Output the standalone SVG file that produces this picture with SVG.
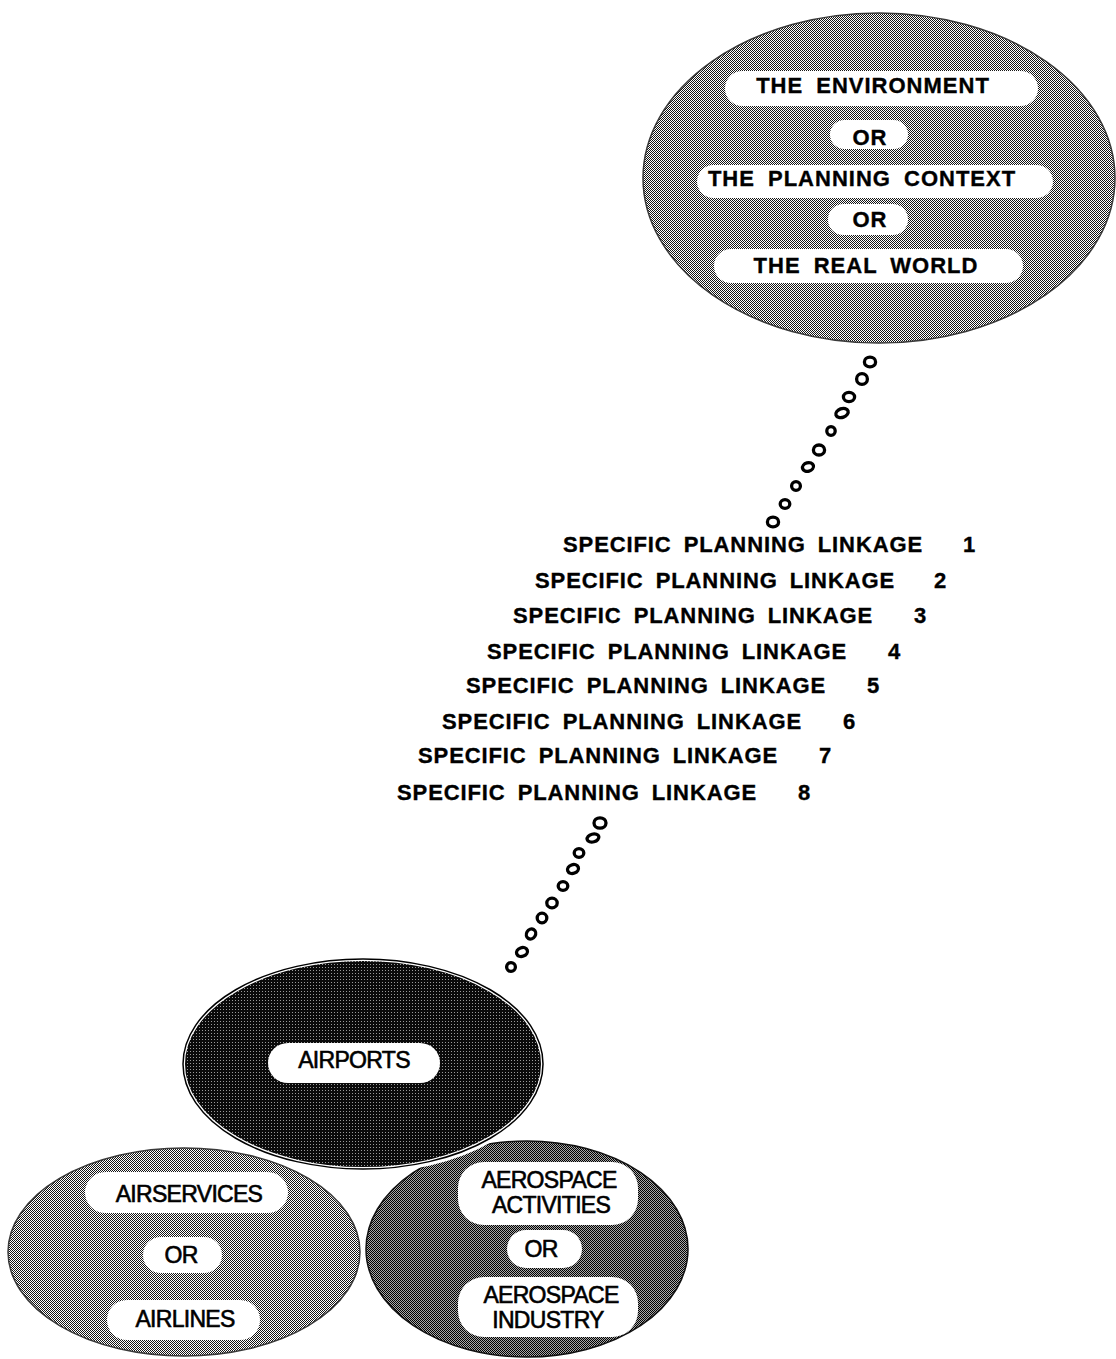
<svg xmlns="http://www.w3.org/2000/svg" width="1116" height="1359" viewBox="0 0 1116 1359">
  <defs>
    <!-- halftone screens used for the region fills -->
    <pattern id="screen-light" width="2" height="2" patternUnits="userSpaceOnUse">
      <rect width="2" height="2" fill="#ffffff"/>
      <rect width="1" height="1" fill="#151515"/>
      <rect x="1" y="1" width="1" height="1" fill="#151515"/>
    </pattern>
    <pattern id="screen-mid" width="2" height="2" patternUnits="userSpaceOnUse">
      <rect width="2" height="2" fill="#a8a8a8"/>
      <rect width="1" height="1" fill="#000000"/>
      <rect x="1" y="1" width="1" height="1" fill="#000000"/>
    </pattern>
    <pattern id="screen-dark" width="3" height="3" patternUnits="userSpaceOnUse">
      <rect width="3" height="3" fill="#0a0a0a"/>
      <rect x="1" y="1" width="1" height="1" fill="#9a9a9a"/>
    </pattern>
    <style>
      .pill { fill: #ffffff; }
      .t-top { font-family: "Liberation Sans", Arial, sans-serif; font-weight: bold; font-size: 22px; letter-spacing: 1px; word-spacing: 6px; fill: #000; stroke: #000; stroke-width: 0.35; text-anchor: middle; }
      .t-link { font-family: "Liberation Sans", Arial, sans-serif; font-weight: bold; font-size: 22px; letter-spacing: 0.9px; word-spacing: 5px; fill: #000; stroke: #000; stroke-width: 0.35; }
      .t-low { font-family: "Liberation Sans", Arial, sans-serif; font-size: 23px; letter-spacing: -0.7px; fill: #000; stroke: #000; stroke-width: 0.6; text-anchor: middle; }
      .ring { fill: #ffffff; stroke: #000; stroke-width: 3.3; }
    </style>
  </defs>

  <rect width="1116" height="1359" fill="#ffffff"/>

  <!-- planning environment -->
  <g id="node-environment">
    <ellipse cx="879" cy="178" rx="236" ry="165" fill="url(#screen-light)" stroke="#3a3a3a" stroke-width="1.5"/>
    <rect class="pill" x="725" y="71" width="313" height="35" rx="17.5"/>
    <rect class="pill" x="830" y="120" width="78" height="29" rx="14.5"/>
    <rect class="pill" x="697" y="165" width="356" height="33" rx="16.5"/>
    <rect class="pill" x="828" y="204" width="80" height="31" rx="15.5"/>
    <rect class="pill" x="714" y="249" width="309" height="34" rx="17"/>
    <text class="t-top" x="873" y="93">THE ENVIRONMENT</text>
    <text class="t-top" x="870" y="145">OR</text>
    <text class="t-top" x="862" y="186">THE PLANNING CONTEXT</text>
    <text class="t-top" x="870" y="227">OR</text>
    <text class="t-top" x="866" y="273">THE REAL WORLD</text>
  </g>

  <!-- the numbered linkages -->
  <g id="node-linkages">
    <text class="t-link" y="552"><tspan x="563">SPECIFIC PLANNING LINKAGE</tspan><tspan x="963">1</tspan></text>
    <text class="t-link" y="588"><tspan x="535">SPECIFIC PLANNING LINKAGE</tspan><tspan x="934">2</tspan></text>
    <text class="t-link" y="623"><tspan x="513">SPECIFIC PLANNING LINKAGE</tspan><tspan x="914">3</tspan></text>
    <text class="t-link" y="659"><tspan x="487">SPECIFIC PLANNING LINKAGE</tspan><tspan x="888">4</tspan></text>
    <text class="t-link" y="693"><tspan x="466">SPECIFIC PLANNING LINKAGE</tspan><tspan x="867">5</tspan></text>
    <text class="t-link" y="729"><tspan x="442">SPECIFIC PLANNING LINKAGE</tspan><tspan x="843">6</tspan></text>
    <text class="t-link" y="763"><tspan x="418">SPECIFIC PLANNING LINKAGE</tspan><tspan x="819">7</tspan></text>
    <text class="t-link" y="800"><tspan x="397">SPECIFIC PLANNING LINKAGE</tspan><tspan x="798">8</tspan></text>
  </g>

  <!-- chains of rings tying the environment, the linkages and the airports -->
  <g id="connectors">
    <g id="chain-upper">
      <ellipse class="ring" cx="870" cy="362" rx="5.6" ry="4.8"/>
      <ellipse class="ring" cx="862" cy="379" rx="5.4" ry="5.4"/>
      <ellipse class="ring" cx="849" cy="397" rx="5.6" ry="4.6"/>
      <ellipse class="ring" cx="842" cy="413" rx="6.4" ry="4.4" transform="rotate(-20 842 413)"/>
      <ellipse class="ring" cx="831" cy="431" rx="4.2" ry="4.4"/>
      <ellipse class="ring" cx="819" cy="450" rx="5.6" ry="5"/>
      <ellipse class="ring" cx="808" cy="467" rx="5.6" ry="4.2" transform="rotate(-15 808 467)"/>
      <ellipse class="ring" cx="796" cy="486" rx="4.4" ry="4.4"/>
      <ellipse class="ring" cx="785" cy="504" rx="4.8" ry="4.4"/>
      <ellipse class="ring" cx="773" cy="522" rx="5.6" ry="4.8"/>
    </g>
    <g id="chain-lower">
      <ellipse class="ring" cx="600" cy="823" rx="6" ry="5.2"/>
      <ellipse class="ring" cx="593" cy="838" rx="6" ry="3.9" transform="rotate(-15 593 838)"/>
      <ellipse class="ring" cx="579" cy="853" rx="4.8" ry="4.4"/>
      <ellipse class="ring" cx="573" cy="869" rx="5.6" ry="4.3" transform="rotate(-20 573 869)"/>
      <ellipse class="ring" cx="563" cy="886" rx="4.8" ry="4.4"/>
      <ellipse class="ring" cx="552" cy="903" rx="5.2" ry="4.8"/>
      <ellipse class="ring" cx="542" cy="918" rx="4.8" ry="4.8"/>
      <ellipse class="ring" cx="531" cy="934" rx="5.2" ry="4.5" transform="rotate(-60 531 934)"/>
      <ellipse class="ring" cx="522" cy="952" rx="5.6" ry="4.3" transform="rotate(-20 522 952)"/>
      <ellipse class="ring" cx="511" cy="967" rx="4.4" ry="4.4"/>
    </g>
  </g>

  <!-- air services / airlines -->
  <g id="node-airservices">
    <ellipse cx="184" cy="1252" rx="176" ry="104" fill="url(#screen-light)" stroke="#3a3a3a" stroke-width="1.5"/>
    <rect class="pill" x="85" y="1172" width="203" height="41" rx="20.5"/>
    <rect class="pill" x="143" y="1237" width="79" height="36" rx="18"/>
    <rect class="pill" x="107" y="1300" width="153" height="40" rx="20"/>
    <text class="t-low" x="189" y="1202">AIRSERVICES</text>
    <text class="t-low" x="181" y="1263">OR</text>
    <text class="t-low" x="185" y="1327">AIRLINES</text>
  </g>

  <!-- aerospace activities / industry -->
  <g id="node-aerospace">
    <ellipse cx="527" cy="1249" rx="161" ry="108" fill="url(#screen-mid)" stroke="#111" stroke-width="1.5"/>
    <rect class="pill" x="458" y="1162" width="180" height="63" rx="26"/>
    <rect class="pill" x="507" y="1230" width="75" height="38" rx="19"/>
    <rect class="pill" x="458" y="1277" width="180" height="60" rx="26"/>
    <text class="t-low" x="549" y="1188">AEROSPACE</text>
    <text class="t-low" x="551" y="1213">ACTIVITIES</text>
    <text class="t-low" x="541" y="1257">OR</text>
    <text class="t-low" x="551" y="1303">AEROSPACE</text>
    <text class="t-low" x="548" y="1328">INDUSTRY</text>
  </g>

  <!-- airports, on top, with a white rim separating it from the two regions below -->
  <g id="node-airports">
    <ellipse cx="363" cy="1064" rx="181" ry="106" fill="url(#screen-dark)" stroke="#ffffff" stroke-width="6"/>
    <ellipse cx="363" cy="1064" rx="180" ry="105" fill="none" stroke="#000" stroke-width="1.5"/>
    <rect class="pill" x="268" y="1043" width="172" height="40" rx="20"/>
    <text class="t-low" x="354" y="1068">AIRPORTS</text>
  </g>
</svg>
